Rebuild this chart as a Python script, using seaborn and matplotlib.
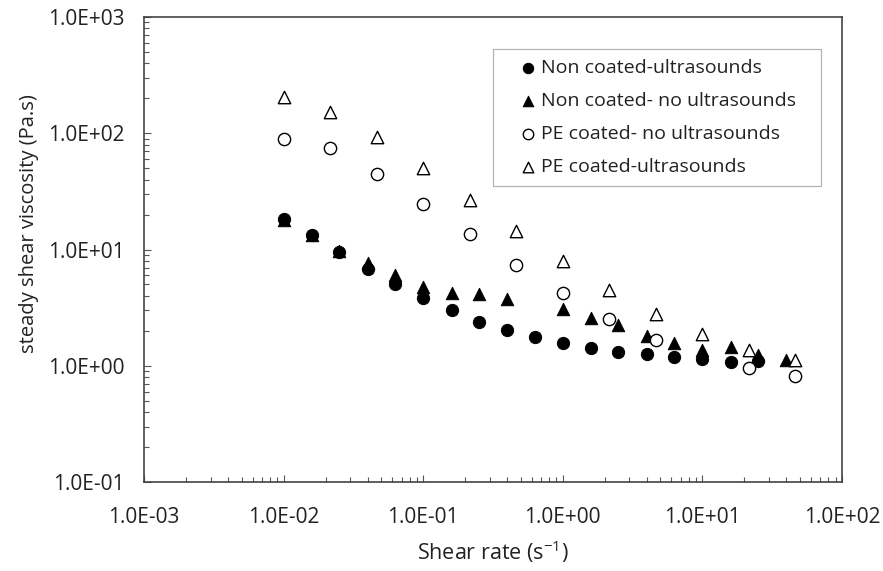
"""Steady shear viscosity vs shear rate for coated / non coated samples."""

import matplotlib
matplotlib.use("Agg")
import matplotlib.pyplot as plt
import pandas as pd
import seaborn as sns
from matplotlib.ticker import LogLocator, FuncFormatter, NullFormatter

# Non coated-ultrasounds (filled circles)
rate_nc_us = [0.01, 0.016, 0.025, 0.04, 0.063, 0.1, 0.16, 0.25, 0.4, 0.63,
              1.0, 1.6, 2.5, 4.0, 6.3, 10, 16, 25]
visc_nc_us = [18.3, 13.4, 9.5, 6.8, 5.0, 3.8, 3.0, 2.4, 2.02, 1.75,
              1.56, 1.43, 1.32, 1.26, 1.18, 1.14, 1.08, 1.09]

# Non coated- no ultrasounds (filled triangles)
rate_nc_nous = [0.01, 0.016, 0.025, 0.04, 0.063, 0.1, 0.16, 0.25, 0.4,
                1.0, 1.6, 2.5, 4.0, 6.3, 10, 16, 25, 40]
visc_nc_nous = [18.0, 13.3, 9.8, 7.7, 6.05, 4.8, 4.2, 4.13, 3.76,
                3.08, 2.60, 2.22, 1.81, 1.56, 1.37, 1.46, 1.24, 1.12]

# PE coated- no ultrasounds (open circles)
rate_pe_nous = [0.01, 0.0215, 0.0464, 0.1, 0.215, 0.464, 1.0, 2.15, 4.64, 21.5, 46.4]
visc_pe_nous = [89, 74, 44.5, 24.6, 13.6, 7.4, 4.2, 2.53, 1.67, 0.95, 0.82]

# PE coated-ultrasounds (open triangles)
rate_pe_us = [0.01, 0.0215, 0.0464, 0.1, 0.215, 0.464, 1.0, 2.15, 4.64, 10, 21.5, 46.4]
visc_pe_us = [204, 153, 92, 50, 26.7, 14.3, 7.9, 4.5, 2.78, 1.87, 1.37, 1.12]

SERIES = [
    ("Non coated-ultrasounds", rate_nc_us, visc_nc_us),
    ("Non coated- no ultrasounds", rate_nc_nous, visc_nc_nous),
    ("PE coated- no ultrasounds", rate_pe_nous, visc_pe_nous),
    ("PE coated-ultrasounds", rate_pe_us, visc_pe_us),
]

STYLES = {
    "Non coated-ultrasounds": dict(marker="o", s=78, color="black", edgecolor="black", zorder=4),
    "Non coated- no ultrasounds": dict(marker="^", s=80, color="black", edgecolor="black", zorder=3),
    "PE coated- no ultrasounds": dict(marker="o", s=78, color="white", edgecolor="black",
                                      linewidth=1.0, zorder=5),
    "PE coated-ultrasounds": dict(marker="^", s=80, color="white", edgecolor="black",
                                  linewidth=1.0, zorder=6),
}


def sci_label(v, pos):
    mant, exp = f"{v:.1E}".split("E")
    sign = "+" if int(exp) >= 0 else "-"
    return f"{mant}E{sign}{abs(int(exp)):02d}"


def main():
    df = pd.concat(
        [pd.DataFrame({"rate": r, "visc": v, "series": name}) for name, r, v in SERIES],
        ignore_index=True,
    )

    fig = plt.figure(figsize=(8.83, 5.71), dpi=100)
    ax = fig.add_axes([144 / 883, 1 - 482 / 571, 698 / 883, 465 / 571])

    for name, _, _ in SERIES:
        sub = df[df["series"] == name]
        sns.scatterplot(data=sub, x="rate", y="visc", ax=ax, label=name, **STYLES[name])

    ax.set_xscale("log")
    ax.set_yscale("log")
    ax.set_xlim(1e-3, 1e2)
    ax.set_ylim(1e-1, 1e3)

    for a in (ax.xaxis, ax.yaxis):
        a.set_major_locator(LogLocator(base=10, numticks=10))
        a.set_minor_locator(LogLocator(base=10, subs=range(2, 10), numticks=10))
        a.set_major_formatter(FuncFormatter(sci_label))
        a.set_minor_formatter(NullFormatter())

    ax.tick_params(which="both", direction="in", top=False, right=False, left=True,
                   bottom=True, colors="#555555", labelcolor="#222222", labelsize=15)
    ax.tick_params(which="major", length=5, width=0.8)
    ax.tick_params(which="minor", length=3.5, width=0.8)
    ax.tick_params(axis="y", which="major", pad=14)
    ax.tick_params(axis="x", which="major", pad=18)

    for sp in ax.spines.values():
        sp.set_visible(True)
        sp.set_color("#444444")
        sp.set_linewidth(1.2)

    ax.set_xlabel("Shear rate (s$^{-1}$)", fontsize=15.5, color="#222222")
    ax.set_ylabel("steady shear viscosity (Pa.s)", fontsize=14.5, color="#222222")
    ax.xaxis.set_label_coords(0.5, -0.122)
    ax.yaxis.set_label_coords(-0.150, 0.555)
    ax.grid(False)

    # legend frame spans x 493..821 px, y 49..182 px
    leg = ax.legend(loc="upper left",
                    bbox_to_anchor=(349 / 698, 300 / 465, 328 / 698, 133 / 465),
                    mode="expand", borderaxespad=0, frameon=True, fancybox=False,
                    fontsize=14, handlelength=2.6, handletextpad=-0.63,
                    borderpad=0.5, labelspacing=0.78, markerscale=0.85)
    leg.get_frame().set_edgecolor("#a0a0a0")
    leg.get_frame().set_linewidth(0.9)
    for t in leg.get_texts():
        t.set_color("#222222")

    fig.savefig("out.png", dpi=100)
    plt.close(fig)


if __name__ == "__main__":
    sns.set_theme(style="white")
    plt.rcParams["font.family"] = ["Open Sans", "DejaVu Sans"]
    plt.rcParams["mathtext.default"] = "regular"
    main()
